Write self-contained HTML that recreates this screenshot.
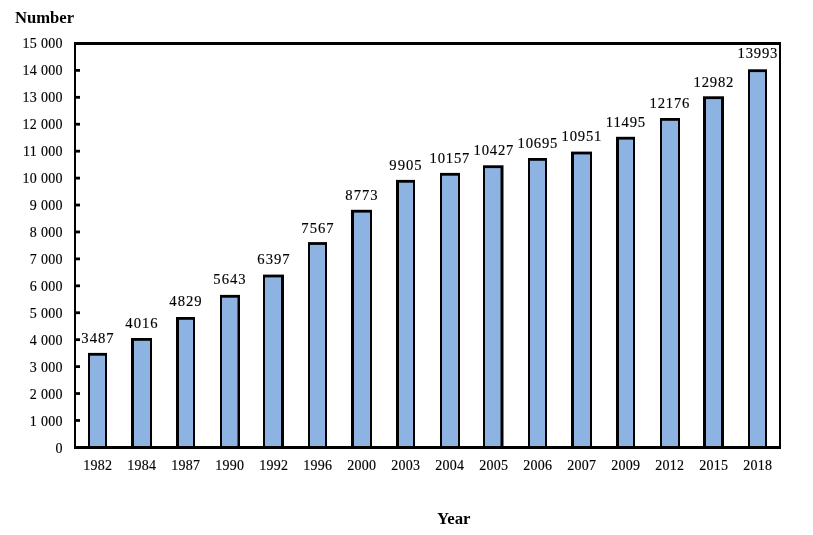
<!DOCTYPE html>
<html lang="en">
<head>
<meta charset="utf-8">
<title>Number by Year</title>
<style>
html,body{margin:0;padding:0;background:#fff;}
body{width:813px;height:535px;overflow:hidden;}
svg{display:block;}
text{font-family:"Liberation Serif","Times New Roman",Times,serif;fill:#000;}
.ax{font-size:14px;letter-spacing:0.3px;stroke:#000;stroke-width:0.15px;}
.dl{font-size:14.67px;letter-spacing:1px;stroke:#000;stroke-width:0.15px;}
.ti{font-size:16px;font-weight:bold;}
</style>
</head>
<body>
<svg width="813" height="535" viewBox="0 0 813 535">
<rect x="0" y="0" width="813" height="535" fill="#fff"/>

<rect x="88" y="352.90" width="19" height="94.10" fill="#000"/>
<rect x="90" y="355.70" width="15" height="91.30" fill="#8DB3E2"/>
<rect x="131" y="338.00" width="21" height="109.00" fill="#000"/>
<rect x="134" y="340.80" width="16" height="106.20" fill="#8DB3E2"/>
<rect x="176" y="317.00" width="19" height="130.00" fill="#000"/>
<rect x="179" y="319.80" width="14" height="127.20" fill="#8DB3E2"/>
<rect x="220" y="294.90" width="20" height="152.10" fill="#000"/>
<rect x="222" y="297.70" width="15.5" height="149.30" fill="#8DB3E2"/>
<rect x="263" y="274.60" width="21" height="172.40" fill="#000"/>
<rect x="265" y="277.40" width="16" height="169.60" fill="#8DB3E2"/>
<rect x="308" y="242.10" width="19" height="204.90" fill="#000"/>
<rect x="310" y="244.90" width="15" height="202.10" fill="#8DB3E2"/>
<rect x="351" y="209.80" width="21" height="237.20" fill="#000"/>
<rect x="354" y="212.60" width="16" height="234.40" fill="#8DB3E2"/>
<rect x="396" y="179.90" width="19" height="267.10" fill="#000"/>
<rect x="399" y="182.70" width="14" height="264.30" fill="#8DB3E2"/>
<rect x="440" y="172.90" width="20" height="274.10" fill="#000"/>
<rect x="442" y="175.70" width="16" height="271.30" fill="#8DB3E2"/>
<rect x="483" y="165.30" width="20.5" height="281.70" fill="#000"/>
<rect x="485" y="168.10" width="15.5" height="278.90" fill="#8DB3E2"/>
<rect x="528" y="158.00" width="19" height="289.00" fill="#000"/>
<rect x="530" y="160.80" width="15" height="286.20" fill="#8DB3E2"/>
<rect x="571" y="151.60" width="21" height="295.40" fill="#000"/>
<rect x="574" y="154.40" width="16" height="292.60" fill="#8DB3E2"/>
<rect x="616" y="136.80" width="19" height="310.20" fill="#000"/>
<rect x="619" y="139.60" width="14" height="307.40" fill="#8DB3E2"/>
<rect x="660" y="118.00" width="20" height="329.00" fill="#000"/>
<rect x="662" y="120.80" width="16" height="326.20" fill="#8DB3E2"/>
<rect x="703" y="96.30" width="21" height="350.70" fill="#000"/>
<rect x="706" y="99.10" width="15" height="347.90" fill="#8DB3E2"/>
<rect x="748" y="69.30" width="19" height="377.70" fill="#000"/>
<rect x="750" y="72.10" width="15" height="374.90" fill="#8DB3E2"/>
<rect x="74" y="42" width="707" height="3" fill="#000"/>
<rect x="74" y="446" width="707" height="3" fill="#000"/>
<rect x="74" y="42" width="2" height="407" fill="#000"/>
<rect x="779" y="42" width="2" height="407" fill="#000"/>
<text class="ax" x="62.8" y="452.60" text-anchor="end">0</text>
<rect x="76" y="419.07" width="4" height="2.8" fill="#000"/>
<text class="ax" x="62.8" y="425.61" text-anchor="end">1 000</text>
<rect x="76" y="392.14" width="4" height="2.8" fill="#000"/>
<text class="ax" x="62.8" y="398.62" text-anchor="end">2 000</text>
<rect x="76" y="365.21" width="4" height="2.8" fill="#000"/>
<text class="ax" x="62.8" y="371.63" text-anchor="end">3 000</text>
<rect x="76" y="338.28" width="4" height="2.8" fill="#000"/>
<text class="ax" x="62.8" y="344.64" text-anchor="end">4 000</text>
<rect x="76" y="311.35" width="4" height="2.8" fill="#000"/>
<text class="ax" x="62.8" y="317.65" text-anchor="end">5 000</text>
<rect x="76" y="284.42" width="4" height="2.8" fill="#000"/>
<text class="ax" x="62.8" y="290.66" text-anchor="end">6 000</text>
<rect x="76" y="257.49" width="4" height="2.8" fill="#000"/>
<text class="ax" x="62.8" y="263.67" text-anchor="end">7 000</text>
<rect x="76" y="230.56" width="4" height="2.8" fill="#000"/>
<text class="ax" x="62.8" y="236.68" text-anchor="end">8 000</text>
<rect x="76" y="203.63" width="4" height="2.8" fill="#000"/>
<text class="ax" x="62.8" y="209.69" text-anchor="end">9 000</text>
<rect x="76" y="176.70" width="4" height="2.8" fill="#000"/>
<text class="ax" x="62.8" y="182.70" text-anchor="end">10 000</text>
<rect x="76" y="149.77" width="4" height="2.8" fill="#000"/>
<text class="ax" x="62.8" y="155.71" text-anchor="end">11 000</text>
<rect x="76" y="122.84" width="4" height="2.8" fill="#000"/>
<text class="ax" x="62.8" y="128.72" text-anchor="end">12 000</text>
<rect x="76" y="95.91" width="4" height="2.8" fill="#000"/>
<text class="ax" x="62.8" y="101.73" text-anchor="end">13 000</text>
<rect x="76" y="68.98" width="4" height="2.8" fill="#000"/>
<text class="ax" x="62.8" y="74.74" text-anchor="end">14 000</text>
<text class="ax" x="62.8" y="47.75" text-anchor="end">15 000</text>
<text class="ax" x="97.75" y="470.4" text-anchor="middle">1982</text>
<text class="ax" x="141.75" y="470.4" text-anchor="middle">1984</text>
<text class="ax" x="185.75" y="470.4" text-anchor="middle">1987</text>
<text class="ax" x="229.75" y="470.4" text-anchor="middle">1990</text>
<text class="ax" x="273.75" y="470.4" text-anchor="middle">1992</text>
<text class="ax" x="317.75" y="470.4" text-anchor="middle">1996</text>
<text class="ax" x="361.75" y="470.4" text-anchor="middle">2000</text>
<text class="ax" x="405.75" y="470.4" text-anchor="middle">2003</text>
<text class="ax" x="449.75" y="470.4" text-anchor="middle">2004</text>
<text class="ax" x="493.75" y="470.4" text-anchor="middle">2005</text>
<text class="ax" x="537.75" y="470.4" text-anchor="middle">2006</text>
<text class="ax" x="581.75" y="470.4" text-anchor="middle">2007</text>
<text class="ax" x="625.75" y="470.4" text-anchor="middle">2009</text>
<text class="ax" x="669.75" y="470.4" text-anchor="middle">2012</text>
<text class="ax" x="713.75" y="470.4" text-anchor="middle">2015</text>
<text class="ax" x="757.75" y="470.4" text-anchor="middle">2018</text>
<text class="dl" style="letter-spacing:1.0px" x="98.00" y="342.70" text-anchor="middle">3487</text>
<text class="dl" style="letter-spacing:1.0px" x="142.00" y="328.30" text-anchor="middle">4016</text>
<text class="dl" style="letter-spacing:1.0px" x="186.00" y="306.20" text-anchor="middle">4829</text>
<text class="dl" style="letter-spacing:1.0px" x="230.00" y="284.00" text-anchor="middle">5643</text>
<text class="dl" style="letter-spacing:1.0px" x="274.00" y="263.80" text-anchor="middle">6397</text>
<text class="dl" style="letter-spacing:1.0px" x="318.00" y="232.80" text-anchor="middle">7567</text>
<text class="dl" style="letter-spacing:1.0px" x="362.00" y="199.60" text-anchor="middle">8773</text>
<text class="dl" style="letter-spacing:1.0px" x="406.00" y="170.00" text-anchor="middle">9905</text>
<text class="dl" style="letter-spacing:0.8px" x="449.90" y="163.00" text-anchor="middle">10157</text>
<text class="dl" style="letter-spacing:0.8px" x="493.90" y="155.10" text-anchor="middle">10427</text>
<text class="dl" style="letter-spacing:0.8px" x="537.90" y="148.20" text-anchor="middle">10695</text>
<text class="dl" style="letter-spacing:0.8px" x="581.90" y="140.70" text-anchor="middle">10951</text>
<text class="dl" style="letter-spacing:0.8px" x="625.90" y="126.60" text-anchor="middle">11495</text>
<text class="dl" style="letter-spacing:0.8px" x="669.90" y="107.80" text-anchor="middle">12176</text>
<text class="dl" style="letter-spacing:0.8px" x="713.90" y="86.80" text-anchor="middle">12982</text>
<text class="dl" style="letter-spacing:0.8px" x="757.90" y="58.40" text-anchor="middle">13993</text>
<text class="ti" transform="translate(15,23) scale(1.04,1)">Number</text>
<text class="ti" transform="translate(437,524) scale(1.05,1)">Year</text>
</svg>
</body>
</html>
